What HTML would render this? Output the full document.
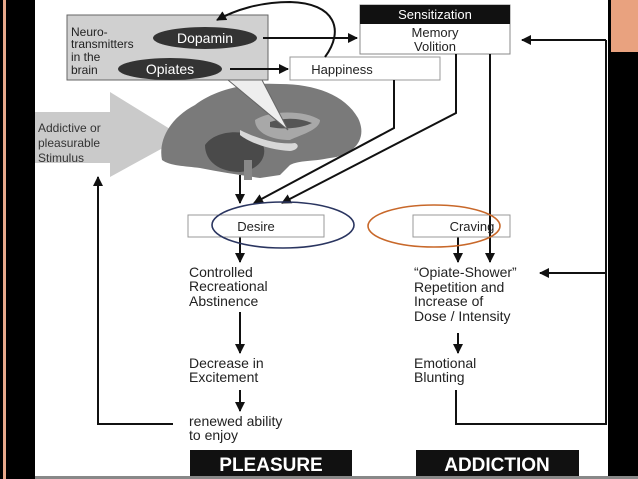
<!DOCTYPE html>
<html><head><meta charset="utf-8"><style>
html,body{margin:0;padding:0;background:#000;}
svg{display:block;}
text{font-family:"Liberation Sans",sans-serif;}
</style></head><body>
<svg width="638" height="479" viewBox="0 0 638 479" xmlns="http://www.w3.org/2000/svg">
<defs>
<marker id="ah" markerWidth="10" markerHeight="10" refX="9" refY="5" orient="auto" markerUnits="userSpaceOnUse"><path d="M0,0 L10,5 L0,10 z" fill="#111"/></marker>
</defs>
<rect x="0" y="0" width="638" height="479" fill="#000"/>
<rect x="3" y="0" width="3" height="479" fill="#e8a88a"/>
<rect x="35" y="0" width="573" height="476" fill="#fff"/>
<rect x="611" y="0" width="27" height="52" fill="#e9a27f"/>
<rect x="35" y="476" width="603" height="3" fill="#888"/>

<!-- stimulus arrow -->
<polygon points="35,112 110,112 110,92 183,137 110,177 110,163 35,163" fill="#cacaca"/>
<text font-size="12" fill="#333"><tspan x="38" y="132">Addictive or</tspan><tspan x="38" y="147">pleasurable</tspan><tspan x="38" y="162">Stimulus</tspan></text>

<!-- brain -->
<path d="M162,160 C158,140 170,118 195,105 C215,90 245,82 280,84 C315,84 345,95 358,118 C368,138 355,155 330,158 C310,162 300,160 290,165 L280,175 L260,178 C240,175 220,172 200,168 C185,166 170,166 162,160 z" fill="#7a7a7a"/>
<path d="M205,145 C215,130 245,128 260,140 C270,152 262,170 240,172 C220,172 205,162 205,145 z" fill="#4a4a4a"/>
<path d="M255,120 C270,110 305,110 320,120 C320,130 300,135 290,140 C270,140 255,132 255,120 z" fill="#a8a8a8"/>
<path d="M270,122 C285,117 300,118 312,123 C302,128 285,130 270,127 z" fill="#555"/>
<path d="M240,130 C260,140 280,145 295,143 C300,145 298,150 290,151 C270,150 250,143 240,135 z" fill="#d8d8d8"/>
<rect x="244" y="160" width="8" height="20" fill="#888"/>

<!-- neuro box -->
<rect x="67" y="15" width="201" height="65" fill="#d0d0d0" stroke="#666" stroke-width="1"/>
<polygon points="228,80 262,80 288,130" fill="#eee" stroke="#666" stroke-width="1"/>
<text font-size="12" fill="#222"><tspan x="71" y="36">Neuro-</tspan><tspan x="71" y="48">transmitters</tspan><tspan x="71" y="61">in the</tspan><tspan x="71" y="74">brain</tspan></text>
<ellipse cx="205" cy="38" rx="52" ry="11" fill="#333"/>
<text x="205" y="43" font-size="14" fill="#fff" text-anchor="middle">Dopamin</text>
<ellipse cx="170" cy="69" rx="52" ry="11" fill="#333"/>
<text x="170" y="74" font-size="14" fill="#fff" text-anchor="middle">Opiates</text>

<!-- sensitization -->
<rect x="360" y="5" width="150" height="49" fill="#fff" stroke="#888" stroke-width="1"/>
<rect x="360" y="5" width="150" height="19" fill="#111"/>
<text x="435" y="19" font-size="13" fill="#fff" text-anchor="middle">Sensitization</text>
<text x="435" y="37" font-size="13" fill="#222" text-anchor="middle">Memory</text>
<text x="435" y="51" font-size="13" fill="#222" text-anchor="middle">Volition</text>

<!-- happiness -->
<rect x="290" y="57" width="150" height="23" fill="#fff" stroke="#999" stroke-width="1"/>
<text x="342" y="74" font-size="13" fill="#222" text-anchor="middle">Happiness</text>

<!-- connectors -->
<g stroke="#111" stroke-width="2" fill="none">
<path d="M325,57 C345,30 335,3 290,2 C260,2 235,10 217,20" marker-end="url(#ah)"/>
<line x1="263" y1="38" x2="357" y2="38" marker-end="url(#ah)"/>
<line x1="230" y1="69" x2="288" y2="69" marker-end="url(#ah)"/>
<polyline points="606,40 522,40" marker-end="url(#ah)"/>
<polyline points="394,80 394,128 254,203" marker-end="url(#ah)"/>
<polyline points="456,54 456,113 282,203" marker-end="url(#ah)"/>
<line x1="240" y1="175" x2="240" y2="203" marker-end="url(#ah)"/>
<line x1="490" y1="54" x2="490" y2="262" marker-end="url(#ah)"/>
<line x1="458" y1="237" x2="458" y2="262" marker-end="url(#ah)"/>
<line x1="240" y1="237" x2="240" y2="262" marker-end="url(#ah)"/>
<line x1="240" y1="312" x2="240" y2="353" marker-end="url(#ah)"/>
<line x1="240" y1="390" x2="240" y2="411" marker-end="url(#ah)"/>
<line x1="458" y1="333" x2="458" y2="353" marker-end="url(#ah)"/>
<polyline points="173,424 98,424 98,177" marker-end="url(#ah)"/>
<polyline points="456,390 456,424 606,424 606,40"/>
<line x1="606" y1="273" x2="540" y2="273" marker-end="url(#ah)"/>
</g>

<!-- desire / craving -->
<rect x="188" y="215" width="136" height="22" fill="#fff" stroke="#999" stroke-width="1"/>
<text x="256" y="231" font-size="13" fill="#222" text-anchor="middle">Desire</text>
<rect x="413" y="215" width="97" height="22" fill="#fff" stroke="#999" stroke-width="1"/>
<line x1="490" y1="215" x2="490" y2="237" stroke="#111" stroke-width="2"/>
<text x="472" y="231" font-size="13" fill="#222" text-anchor="middle">Craving</text>
<ellipse cx="283" cy="225" rx="71" ry="23" fill="none" stroke="#2a3560" stroke-width="1.6"/>
<ellipse cx="434" cy="226" rx="66" ry="21" fill="none" stroke="#c8682a" stroke-width="1.6"/>

<!-- left column text -->
<text font-size="14" fill="#222"><tspan x="189" y="277">Controlled</tspan><tspan x="189" y="291">Recreational</tspan><tspan x="189" y="306">Abstinence</tspan>
<tspan x="189" y="368">Decrease in</tspan><tspan x="189" y="382">Excitement</tspan>
<tspan x="189" y="426">renewed ability</tspan><tspan x="189" y="440">to enjoy</tspan></text>
<text font-size="14" fill="#222"><tspan x="414" y="277">“Opiate-Shower”</tspan><tspan x="414" y="292">Repetition and</tspan><tspan x="414" y="306">Increase of</tspan><tspan x="414" y="321">Dose / Intensity</tspan>
<tspan x="414" y="368">Emotional</tspan><tspan x="414" y="382">Blunting</tspan></text>

<rect x="190" y="450" width="162" height="26" fill="#111"/>
<text x="271" y="471" font-size="19" font-weight="bold" fill="#fff" text-anchor="middle">PLEASURE</text>
<rect x="416" y="450" width="163" height="26" fill="#111"/>
<text x="497" y="471" font-size="19" font-weight="bold" fill="#fff" text-anchor="middle">ADDICTION</text>
</svg>
</body></html>
